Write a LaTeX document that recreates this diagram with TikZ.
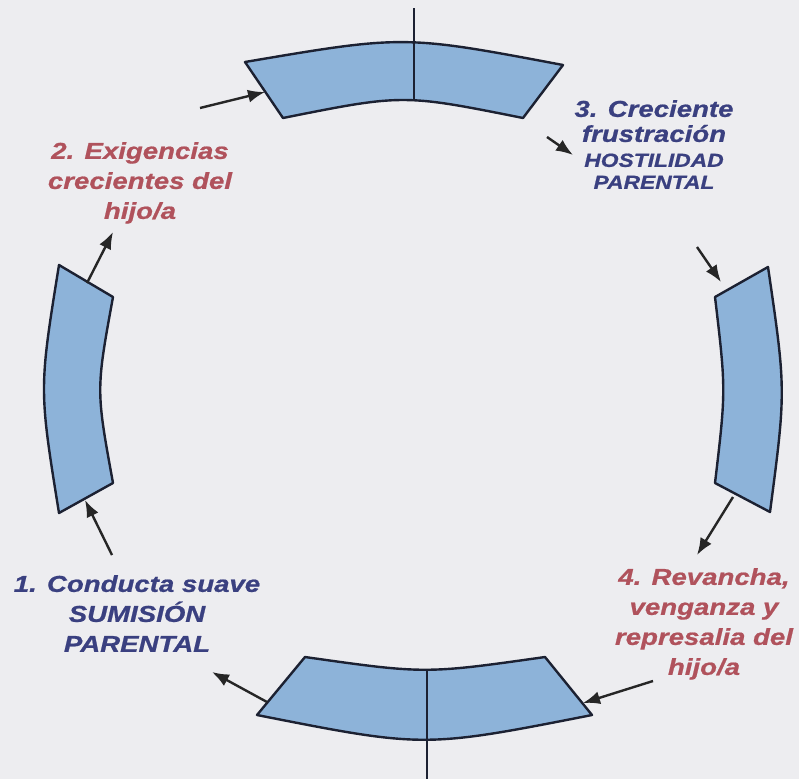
\documentclass[tikz,border=0pt]{standalone}
\usepackage{fontspec}
\newfontfamily\cyclefont{Liberation Sans}[FakeStretch=1.2, FakeBold=0.8]
\usetikzlibrary{arrows.meta}
\definecolor{segblue}{RGB}{141,179,217}
\definecolor{segline}{RGB}{28,33,50}
\definecolor{txtblue}{RGB}{58,64,128}
\definecolor{txtred}{RGB}{176,82,92}
\definecolor{paper}{RGB}{237,237,240}
\begin{document}
\begin{tikzpicture}[
              x = 1pt, y = -1pt,
              seg/.style = {draw=segline, fill=segblue, line width=2.4pt, line join=round},
              axis/.style = {draw=segline, line width=2pt},
              flow/.style = {draw=black!85, line width=2.4pt, -{Latex[length=17pt,width=13pt]}},
              lbl/.style = {align=center, inner sep=0pt, anchor=north,
                            font=\cyclefont\bfseries\itshape\fontsize{23}{30}\selectfont}
            ]
            \fill[paper] (0,0) rectangle (799,779);
            \useasboundingbox (0,0) rectangle (799,779);
            % the four blocks of the cycle
            \draw[seg] (245,62) .. controls (404,35) .. (563,65) -- (523,118)
              .. controls (403,94) .. (283,118) -- cycle;
            \draw[seg] (768,267) .. controls (786,390) .. (770,512) -- (715,483)
              .. controls (726,390) .. (715,297) -- cycle;
            \draw[seg] (305,657) .. controls (425,674) .. (545,657) -- (592,715)
              .. controls (424,748) .. (257,715) -- cycle;
            \draw[seg] (59,265) .. controls (39,389) .. (59,513) -- (113,483)
              .. controls (96,390) .. (113,297) -- cycle;
            \draw[axis] (414,8) -- (414,100);
            \draw[axis] (427,670) -- (427,779);
            % labels
            \node[lbl, text=txtred] (demand) at (140,142) {2. Exigencias\\crecientes del\\hijo/a};
            \node[lbl, text=txtblue, font=\cyclefont\bfseries\itshape\fontsize{23}{25}\selectfont]
              (hostile) at (654,100)
              {3. Creciente\\frustración\\{\fontsize{19}{25}\selectfont HOSTILIDAD}\\[-3pt]{\fontsize{19}{22}\selectfont PARENTAL}};
            \node[lbl, text=txtblue] (submit) at (137,575) {1. Conducta suave\\SUMISIÓN\\PARENTAL};
            \node[lbl, text=txtred] (revenge) at (704,568) {4. Revancha,\\venganza y\\represalia del\\hijo/a};
            % arrow ends
            \coordinate (topin) at (265,92);
            \coordinate (topsrc) at (200,108);
            \coordinate (leftout) at (87,283);
            \coordinate (demandtip) at (113,232);
            \coordinate (hostilesrc) at (547,137);
            \coordinate (hostiletip) at (573,155);
            \coordinate (rightsrc) at (697,247);
            \coordinate (rightin) at (721,282);
            \coordinate (rightout) at (733,497);
            \coordinate (revengetip) at (697,555);
            \coordinate (revengesrc) at (653,681);
            \coordinate (bottomin) at (583,703);
            \coordinate (bottomout) at (267,702);
            \coordinate (submittip) at (212,672);
            \coordinate (leftsrc) at (112,555);
            \coordinate (leftin) at (85,500);
            % arrows
            \draw[flow] (topsrc) -- (topin);
            \draw[flow] (leftout) -- (demandtip);
            \draw[flow] (hostilesrc) -- (hostiletip);
            \draw[flow] (rightsrc) -- (rightin);
            \draw[flow] (rightout) -- (revengetip);
            \draw[flow] (revengesrc) -- (bottomin);
            \draw[flow] (bottomout) -- (submittip);
            \draw[flow] (leftsrc) -- (leftin);
          \end{tikzpicture}
\end{document}
